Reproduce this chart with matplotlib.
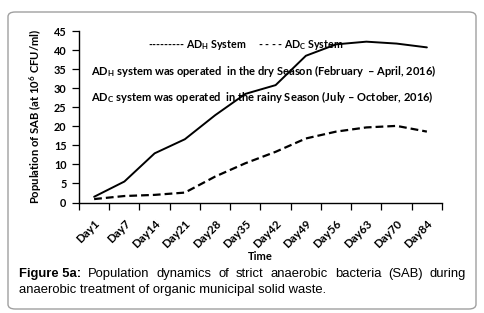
import numpy as np
import matplotlib
matplotlib.use("Agg")
import matplotlib.pyplot as plt
from matplotlib.patches import FancyBboxPatch
from matplotlib.ticker import FixedLocator, NullFormatter

plt.rcParams['font.family'] = ['Lato', 'DejaVu Sans']
plt.rcParams['mathtext.fontset'] = 'custom'
plt.rcParams['mathtext.rm'] = 'Lato:bold'
plt.rcParams['mathtext.bf'] = 'Lato:bold'

# data
days = ['Day1', 'Day7', 'Day14', 'Day21', 'Day28', 'Day35', 'Day42',
        'Day49', 'Day56', 'Day63', 'Day70', 'Day84']
adh = [1.5, 5.5, 12.9, 16.6, 22.9, 28.5, 30.8, 38.5, 41.5, 42.2, 41.7, 40.7]
adc = [0.9, 1.7, 2.0, 2.6, 6.8, 10.3, 13.3, 16.8, 18.6, 19.7, 20.1, 18.6]
yticks = [0, 5, 10, 15, 20, 25, 30, 35, 40, 45]

W, H = 485, 313
fig = plt.figure(figsize=(W / 100, H / 100), dpi=100)

# rounded frame around chart + caption
frame = FancyBboxPatch((8 / W, 4 / H), 468 / W, 297 / H,
                       boxstyle="round,pad=0,rounding_size=0.015",
                       transform=fig.transFigure, fc='none', ec='#a0a0a0', lw=1.0,
                       zorder=-1)
fig.patches.append(frame)

ax = fig.add_axes([79 / W, 1 - 202.5 / H, 363 / W, 171.5 / H])
ax.patch.set_alpha(0)
x = np.arange(len(days))
ax.plot(x, adh, color='black', lw=1.4, solid_capstyle='round')
ax.plot(x, adc, color='black', lw=1.6, dashes=(3.5, 1.8))

ax.set_xlim(-0.5, len(days) - 0.5)
ax.set_ylim(0, 45)
ax.set_yticks(yticks)
ax.set_yticklabels([str(v) for v in yticks], fontsize=7.8, fontweight='bold')
ax.set_xticks(x)
ax.set_xticklabels(days, fontsize=8.3, fontweight='bold', rotation=45,
                   ha='right', rotation_mode='anchor')
ax.xaxis.set_minor_locator(FixedLocator(np.arange(-0.5, len(days), 1.0)))
ax.xaxis.set_minor_formatter(NullFormatter())
ax.tick_params(axis='x', which='major', length=0, pad=11)
ax.tick_params(axis='x', which='minor', length=5, width=0.9, direction='out')
ax.tick_params(axis='y', length=5, width=0.9, direction='out', pad=4)
for s in ['top', 'right']:
    ax.spines[s].set_visible(False)
for s in ['left', 'bottom']:
    ax.spines[s].set_linewidth(1.0)

ax.set_ylabel('Population of SAB (at 10$^6$ CFU/ml)', fontsize=8.1, fontweight='bold', labelpad=7)
ax.set_xlabel('Time', fontsize=8, fontweight='bold', labelpad=1)

# legend-like text and notes
fig.text(148 / W, 1 - 45 / H, '--------- $\\mathbf{AD_H}$ System', fontsize=7.7,
         fontweight='bold', va='center')
fig.text(258 / W, 1 - 45 / H, '- - - - $\\mathbf{AD_C}$ System', fontsize=7.7,
         fontweight='bold', va='center')
fig.text(91 / W, 1 - 71 / H,
         '$\\mathbf{AD_H}$ system was operated  in the dry Season (February  \u2013 April, 2016)',
         fontsize=8, fontweight='bold', va='center')
fig.text(91 / W, 1 - 97 / H,
         '$\\mathbf{AD_C}$ system was operated  in the rainy Season (July \u2013 October, 2016)',
         fontsize=8, fontweight='bold', va='center')

# caption, first line justified between x=19 and x=466
cap = ['Liberation Sans', 'DejaVu Sans']
cap_size = 9.4
words = ['Figure 5a:', 'Population', 'dynamics', 'of', 'strict', 'anaerobic',
         'bacteria', '(SAB)', 'during']
renderer = fig.canvas.get_renderer()
items = []
for i, w in enumerate(words):
    items.append(fig.text(0, 1 - 274 / H, w, fontsize=cap_size, family=cap, va='center',
                          fontweight='bold' if i == 0 else 'normal'))
widths = [t.get_window_extent(renderer).width for t in items]
gap = (466 - 19 - sum(widths)) / (len(words) - 1)
xpos = 19
for t, wd in zip(items, widths):
    t.set_x(xpos / W)
    xpos += wd + gap
fig.text(19 / W, 1 - 290 / H,
         'anaerobic treatment of organic municipal solid waste.',
         fontsize=cap_size, family=cap, va='center')

fig.savefig('out.png', dpi=100)
